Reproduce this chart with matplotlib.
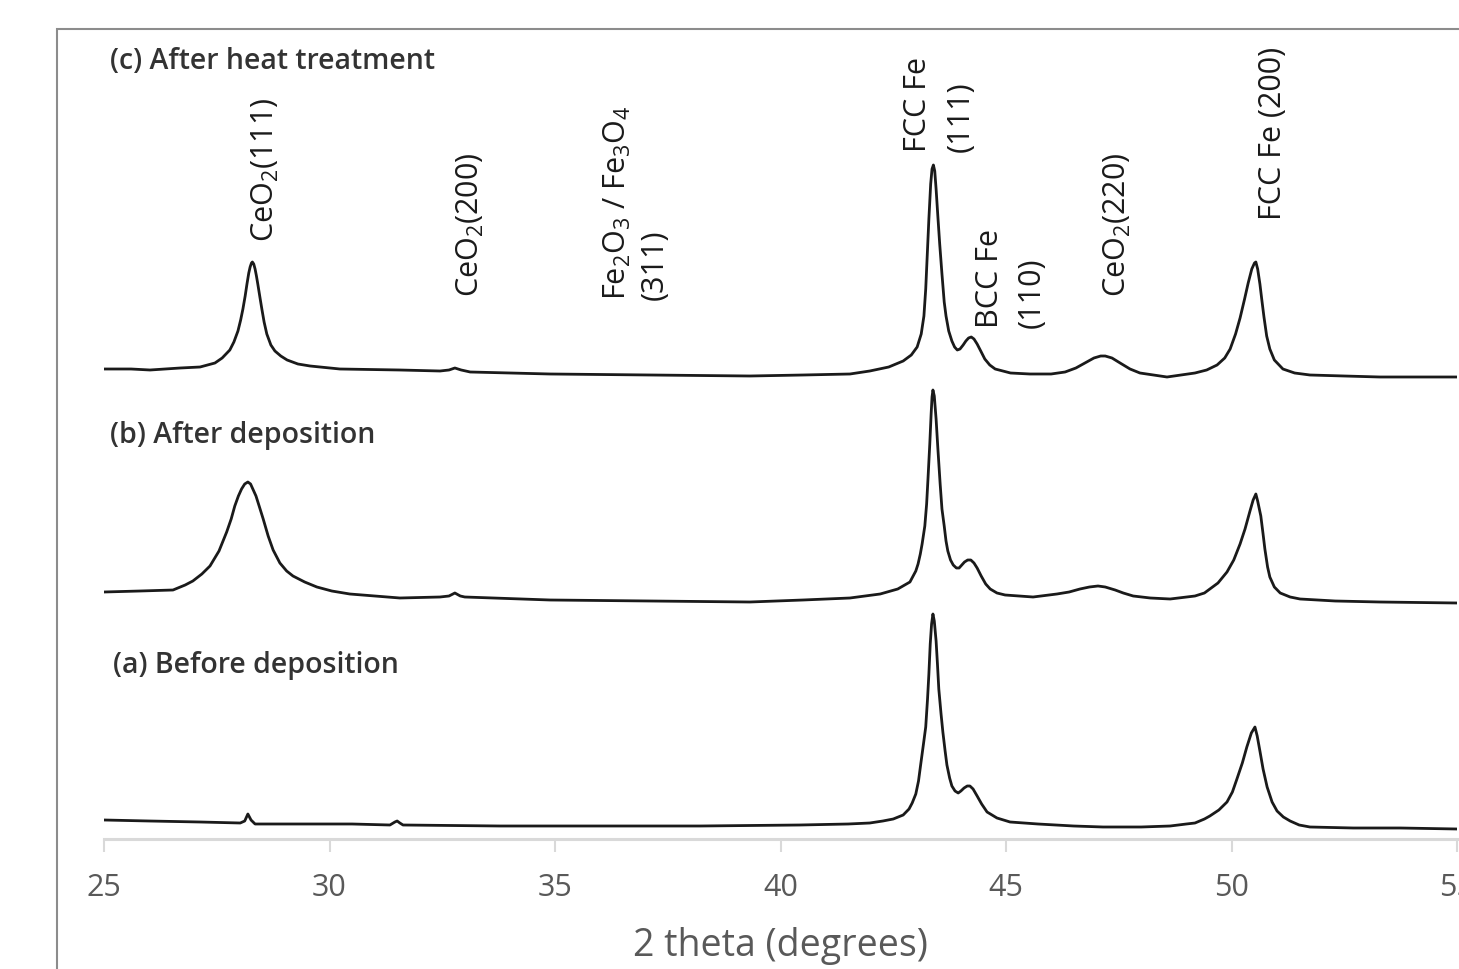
# plot.py
#
# XRD patterns of the sample before deposition, after deposition and after
# heat treatment, stacked on one 2-theta axis with the peaks labelled.

import matplotlib
matplotlib.use("Agg")
import matplotlib.pyplot as plt
from matplotlib.patches import Rectangle

plt.rcParams["font.family"] = ["Open Sans", "DejaVu Sans"]
plt.rcParams["mathtext.fontset"] = "custom"
plt.rcParams["mathtext.rm"] = "Open Sans"
plt.rcParams["mathtext.it"] = "Open Sans:italic"
plt.rcParams["mathtext.bf"] = "Open Sans:bold"

# (2 theta in degrees, stacked intensity in a.u.)

# pattern (c): after heat treatment
pattern_c = [
    (25.00, 470), (25.60, 470), (26.02, 469), (26.69, 471), (27.13, 472),
    (27.46, 476), (27.62, 481), (27.79, 489), (27.88, 497), (27.97, 508),
    (28.03, 519), (28.08, 530), (28.13, 543), (28.17, 555), (28.21, 566),
    (28.24, 572), (28.27, 576), (28.29, 577), (28.32, 575), (28.35, 570),
    (28.38, 563), (28.41, 555), (28.46, 541), (28.50, 530), (28.55, 517),
    (28.61, 505), (28.70, 494), (28.79, 488), (28.92, 483), (29.06, 479),
    (29.30, 475), (29.57, 473), (30.23, 470), (31.56, 469), (32.45, 468),
    (32.65, 469), (32.78, 471), (32.92, 469), (33.12, 467), (34.89, 465),
    (37.11, 464), (39.32, 463), (40.50, 464), (41.54, 465), (41.98, 468),
    (42.40, 472), (42.72, 478), (42.90, 484), (43.03, 492), (43.12, 505),
    (43.18, 523), (43.22, 550), (43.25, 580), (43.29, 620), (43.33, 655),
    (43.36, 670), (43.39, 674), (43.42, 668), (43.45, 650), (43.49, 622),
    (43.53, 595), (43.58, 565), (43.63, 537), (43.67, 523), (43.73, 508),
    (43.80, 498), (43.86, 492), (43.92, 489), (43.98, 490), (44.05, 494),
    (44.11, 498), (44.17, 501), (44.23, 502), (44.29, 500), (44.36, 495),
    (44.44, 488), (44.53, 480), (44.64, 474), (44.76, 470), (45.10, 466),
    (45.53, 465), (46.00, 465), (46.31, 467), (46.55, 471), (46.75, 476),
    (46.95, 481), (47.10, 483), (47.20, 483), (47.35, 481), (47.53, 476),
    (47.75, 470), (47.97, 466), (48.57, 462), (49.19, 466), (49.45, 469),
    (49.68, 474), (49.85, 481), (49.97, 490), (50.09, 505), (50.19, 521),
    (50.29, 540), (50.37, 556), (50.45, 570), (50.51, 576), (50.54, 577),
    (50.58, 570), (50.63, 555), (50.67, 540), (50.72, 522), (50.78, 503),
    (50.85, 490), (50.95, 479), (51.14, 470), (51.40, 466), (51.74, 464),
    (52.50, 463), (53.29, 462), (54.20, 462), (55.00, 462),
]

# pattern (b): after deposition
pattern_b = [
    (25.00, 247), (25.80, 248), (26.53, 249), (26.80, 254), (26.97, 258),
    (27.17, 265), (27.35, 273), (27.55, 288), (27.72, 307), (27.82, 320),
    (27.90, 333), (27.98, 343), (28.05, 350), (28.12, 355), (28.19, 357),
    (28.25, 355), (28.30, 350), (28.37, 343), (28.44, 333), (28.53, 320),
    (28.64, 303), (28.75, 289), (28.90, 276), (29.05, 268), (29.19, 263),
    (29.45, 257), (29.72, 252), (30.05, 248), (30.45, 245), (31.56, 241),
    (32.45, 242), (32.65, 243), (32.78, 246), (32.90, 243), (33.00, 242),
    (34.89, 239), (37.11, 238), (39.32, 237), (40.50, 239), (41.54, 241),
    (42.21, 245), (42.60, 250), (42.87, 257), (43.00, 268), (43.05, 275),
    (43.10, 285), (43.14, 295), (43.20, 313), (43.24, 335), (43.27, 360),
    (43.31, 395), (43.34, 425), (43.36, 442), (43.38, 449), (43.41, 443),
    (43.45, 420), (43.49, 390), (43.54, 355), (43.58, 330), (43.63, 313),
    (43.67, 298), (43.71, 288), (43.77, 279), (43.83, 274), (43.90, 271),
    (43.96, 271), (44.02, 274), (44.08, 277), (44.15, 279), (44.22, 279),
    (44.29, 276), (44.36, 271), (44.45, 263), (44.55, 255), (44.65, 250),
    (44.80, 246), (44.98, 244), (45.60, 242), (46.13, 245), (46.40, 247),
    (46.64, 250), (46.85, 252), (47.04, 253), (47.20, 252), (47.42, 249),
    (47.60, 246), (47.82, 243), (48.20, 241), (48.64, 240), (49.19, 243),
    (49.40, 246), (49.52, 250), (49.70, 256), (49.90, 267), (50.05, 279),
    (50.19, 295), (50.30, 310), (50.41, 328), (50.48, 339), (50.54, 345),
    (50.58, 338), (50.65, 323), (50.70, 305), (50.74, 290), (50.80, 272),
    (50.85, 262), (50.95, 252), (51.08, 246), (51.30, 242), (51.52, 240),
    (52.30, 238), (53.29, 237), (55.00, 236),
]

# pattern (a): before deposition
pattern_a = [
    (25.00, 19), (26.00, 18), (27.13, 17), (28.02, 16), (28.12, 18),
    (28.19, 25), (28.26, 19), (28.35, 15), (29.35, 15), (30.50, 15),
    (31.34, 14), (31.45, 17), (31.50, 18), (31.56, 16), (31.63, 14),
    (33.78, 13), (36.00, 13), (38.22, 13), (40.43, 14), (41.50, 15),
    (41.98, 16), (42.27, 18), (42.50, 20), (42.72, 24), (42.85, 30),
    (42.92, 36), (43.00, 45), (43.06, 58), (43.11, 75), (43.17, 95),
    (43.22, 112), (43.26, 140), (43.29, 165), (43.32, 195), (43.35, 215),
    (43.38, 225), (43.41, 218), (43.45, 198), (43.48, 175), (43.51, 150),
    (43.56, 125), (43.60, 107), (43.65, 88), (43.69, 74), (43.75, 61),
    (43.80, 53), (43.87, 48), (43.94, 46), (44.00, 48), (44.07, 51),
    (44.14, 53), (44.20, 53), (44.27, 50), (44.36, 43), (44.46, 35),
    (44.58, 27), (44.80, 21), (45.09, 17), (45.71, 15), (46.50, 13),
    (47.15, 12), (48.00, 12), (48.64, 13), (49.00, 15), (49.19, 16),
    (49.40, 20), (49.52, 23), (49.72, 29), (49.90, 37), (50.02, 47),
    (50.12, 60), (50.24, 76), (50.34, 92), (50.44, 106), (50.52, 112),
    (50.57, 103), (50.63, 88), (50.70, 70), (50.79, 52), (50.90, 37),
    (51.01, 28), (51.15, 22), (51.30, 18), (51.50, 14), (51.74, 12),
    (52.70, 11), (53.74, 11), (55.00, 10),
]

# pattern names and where they sit (data units)
pattern_labels = ["(c) After heat treatment", "(b) After deposition",
                  "(a) Before deposition"]
pattern_label_x = [25.13, 25.13, 25.20]
pattern_label_y = [778, 404, 175]

# peak labels (rotated), anchored at their bottom centre
peak_labels = ["CeO$_2$(111)", "CeO$_2$(200)",
               "Fe$_2$O$_3$ / Fe$_3$O$_4$\n(311)", "FCC Fe\n(111)",
               "BCC Fe\n(110)", "CeO$_2$(220)", "FCC Fe (200)"]
peak_label_x = [28.57, 33.12, 36.80, 43.52, 45.10, 47.48, 50.92]
peak_label_y = [598, 543, 540, 688, 512, 543, 620]
peak_label_spacing = [1.3, 1.3, 1.3, 1.55, 1.5, 1.3, 1.3]

xticks = [25, 30, 35, 40, 45, 50, 55]

W, H = 1459, 970
fig = plt.figure(figsize=(W / 100, H / 100), dpi=100)
ax = fig.add_axes([104 / W, 1 - 840 / H, (1457 - 104) / W, (840 - 30) / H])

line_kw = dict(color="#1a1a1a", lw=2.0, solid_joinstyle="round")
for pattern in [pattern_c, pattern_b, pattern_a]:
    two_theta, intensity = zip(*pattern)
    ax.plot(two_theta, intensity, **line_kw)

ax.set_xlim(25, 55)
ax.set_ylim(0, 810)

for s in ["top", "left", "right"]:
    ax.spines[s].set_visible(False)
ax.spines["bottom"].set_color("#d9d9d9")
ax.spines["bottom"].set_linewidth(2.2)
ax.set_yticks([])
ax.set_xticks(xticks)
ax.tick_params(axis="x", direction="out", length=9, width=1.5,
               color="#d9d9d9", labelcolor="#595959", labelsize=22, pad=15)
ax.set_xlabel("2 theta (degrees)", fontsize=27, color="#595959", labelpad=17)

for text, x, y in zip(pattern_labels, pattern_label_x, pattern_label_y):
    ax.text(x, y, text, ha="left", va="center", fontsize=20.5,
            fontweight="semibold", color="#333333")

for text, x, y, ls in zip(peak_labels, peak_label_x, peak_label_y,
                          peak_label_spacing):
    ax.text(x, y, text, rotation=90, ha="center", va="bottom",
            multialignment="left", fontsize=22, color="#1a1a1a",
            linespacing=ls)

# chart frame: the picture is cropped at the right and bottom
fig.add_artist(Rectangle((57 / W, -0.5), 2, 0.5 + 1 - 30 / H,
                         transform=fig.transFigure, fill=False,
                         edgecolor="#8c8c8c", lw=1.5))

fig.savefig("out.png", dpi=100)
